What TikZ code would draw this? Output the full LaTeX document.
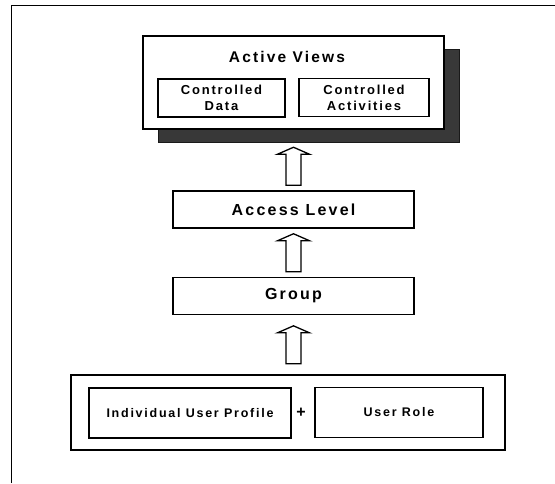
\documentclass[tikz,border=0pt]{standalone}
\usepackage{fontspec}
\setmainfont{Liberation Sans}[LetterSpace=14]
\usetikzlibrary{calc,positioning}

\tikzstyle{box}         = [rectangle, draw=black, fill=white, inner sep=0pt, line width=1.4pt]
\tikzstyle{view_box}    = [box, minimum width=301pt, minimum height=93pt]
\tikzstyle{view_shadow} = [rectangle, fill=black!78, draw=black!90, minimum width=301pt, minimum height=93pt]
\tikzstyle{part_box}    = [box, minimum height=38pt, align=center, font=\bfseries\fontsize{13}{16}\selectfont]
\tikzstyle{level_box}   = [box, minimum width=241pt, minimum height=37pt, font=\bfseries\fontsize{16}{19}\selectfont]
\tikzstyle{user_box}    = [box, minimum height=50pt, font=\bfseries\fontsize{12.5}{15}\selectfont]
\tikzstyle{hollow_arrow} = [draw=black, fill=white, line width=1.3pt, line join=miter]

% hollow block arrow, centred in the gap between two nodes
\newcommand{\liftarrow}[2]{%
  \draw[hollow_arrow] let \p1=(#1), \p2=(#2), \p3=($(#1)!.5!(#2)$) in
    (\x2-7.5pt,\y3-19pt) -- (\x2-7.5pt,\y3+12pt) -- (\x2-16pt,\y3+12pt) -- (\x2,\y3+19pt)
    -- (\x2+16pt,\y3+12pt) -- (\x2+7.5pt,\y3+12pt) -- (\x2+7.5pt,\y3-19pt) -- cycle;
}

\begin{document}
\begin{tikzpicture}[x=1pt, y=1pt, >=stealth]
      \useasboundingbox (0,0) rectangle (555,-483);
      %Frame
      \draw[line width=1pt] (11,-483) -- (11,-5) -- (555,-5);

      %Active Views
      \draw (308.5,-95.5) node[view_shadow] (views_shadow) {};
      \draw (293.5,-82.5) node[view_box] (views) {};
      \node[font=\bfseries\fontsize{15.5}{18}\selectfont] (views_title) at (287,-57) {Active Views};
      \draw (221.5,-98) node[part_box, minimum width=127pt] (data) {Controlled\\Data};
      \draw (364,-97.5) node[part_box, minimum width=130pt] (activities) {Controlled\\Activities};

      %Levels
      \draw (293.5,-209.5) node[level_box] (access) {Access Level};
      \draw (293.5,-296) node[level_box] (group) {Group};

      %User
      \draw (288,-412.5) node[box, line width=1.1pt, minimum width=434pt, minimum height=75pt] (users) {};
      \draw (190,-413) node[user_box, minimum width=202pt] (profile) {Individual User Profile};
      \draw (399,-412.5) node[user_box, minimum width=168pt] (role) {User Role};
      \node[font=\bfseries\fontsize{16}{18}\selectfont] (plus) at (301,-413) {+};

      %Arrows
      \liftarrow{access.north}{views_shadow.south -| views.south}
      \liftarrow{group.north}{access.south}
      \liftarrow{users.north}{group.south}
\end{tikzpicture}
\end{document}
